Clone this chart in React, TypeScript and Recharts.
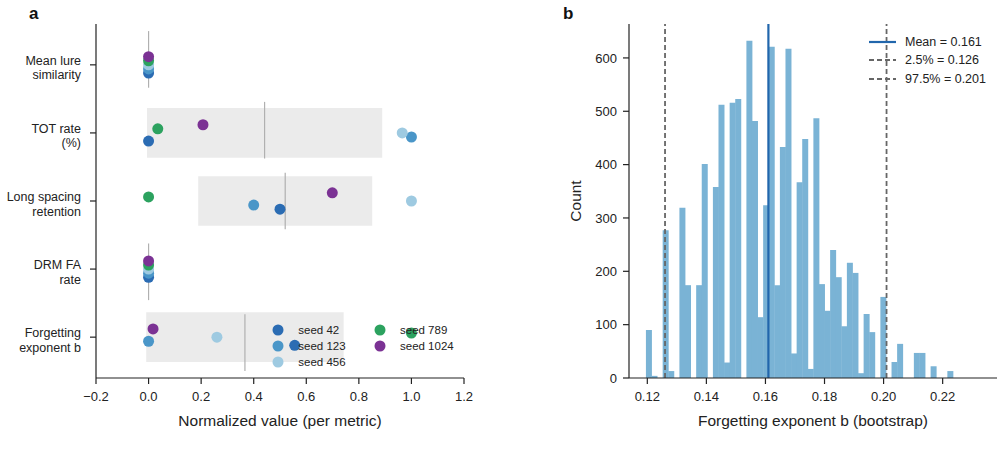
import React from 'react';
import {
  ComposedChart,
  ScatterChart,
  Scatter,
  Bar,
  XAxis,
  YAxis,
  ReferenceArea,
  ReferenceLine,
  Legend,
  Label,
} from 'recharts';

const FONT = '"Liberation Sans", Arial, Helvetica, sans-serif';
const INK = '#222';

// ---- panel a: normalized metric per seed ----
const metricLabels = [
  ['Mean lure', 'similarity'],
  ['TOT rate', '(%)'],
  ['Long spacing', 'retention'],
  ['DRM FA', 'rate'],
  ['Forgetting', 'exponent b'],
];
const seedNames = ['seed 42', 'seed 123', 'seed 456', 'seed 789', 'seed 1024'];
const seedColors = ['#2b6cb3', '#4a96c8', '#9ecae1', '#2ca25f', '#7b3294'];
// vertical jitter (in category units) so seeds don't sit on top of each other
const seedJitter = [0.12, 0.06, 0, -0.06, -0.12];

const seed42 = [0, 0, 0.5, 0, 0.556];
const seed123 = [0, 1.0, 0.4, 0, 0.0];
const seed456 = [0, 0.965, 1.0, 0, 0.26];
const seed789 = [0, 0.035, 0.0, 0, 1.0];
const seed1024 = [0, 0.207, 0.699, 0, 0.017];
const seedValues = [seed42, seed123, seed456, seed789, seed1024];

const xTicksA = [-0.2, 0, 0.2, 0.4, 0.6, 0.8, 1.0, 1.2];
const Y_DOMAIN_A: [number, number] = [-0.6, 4.6];

// ---- panel b: bootstrap histogram ----
const BIN_START = 0.11953;
const BIN_WIDTH = 0.00189;
const binCounts = [
  90, 4, 0, 277, 13, 0, 319, 174, 0, 174,
  401, 0, 358, 512, 29, 516, 523, 0, 632, 482,
  114, 324, 621, 174, 433, 617, 46, 367, 448, 17,
  487, 176, 126, 240, 189, 97, 216, 197, 9, 120,
  86, 0, 152, 0, 30, 64, 0, 0, 47, 47,
  0, 22, 0, 0, 13,
];
const bootMean = 0.161;
const bootLo = 0.126;
const bootHi = 0.201;
const xTicksB = [0.12, 0.14, 0.16, 0.18, 0.2, 0.22];
const yTicksB = [0, 100, 200, 300, 400, 500, 600];

const histData = binCounts.map((count, i) => ({ x: BIN_START + (i + 0.5) * BIN_WIDTH, count }));

const summary = metricLabels.map((_, m) => {
  const vals = seedValues.map((s) => s[m]);
  const mean = vals.reduce((a, b) => a + b, 0) / vals.length;
  const sd = Math.sqrt(vals.reduce((a, b) => a + (b - mean) ** 2, 0) / vals.length);
  return { mean, sd };
});

// mean ticks span 10%..90% of each fifth of the axis height (as in the original figure)
const spanY = (m: number, f: number) =>
  Y_DOMAIN_A[0] + ((m + f) / metricLabels.length) * (Y_DOMAIN_A[1] - Y_DOMAIN_A[0]);

const fmtA = (v: number) => (v < 0 ? '\u2212' + Math.abs(v).toFixed(1) : v.toFixed(1));

function MetricTick({ x, y, payload }: any) {
  const lines = metricLabels[payload.value] || ['', ''];
  return (
    <text x={x} y={y} textAnchor="end" fontSize={12.5} fill={INK} fontFamily={FONT}>
      <tspan x={x} dy={0}>{lines[0]}</tspan>
      <tspan x={x} dy={14.5}>{lines[1]}</tspan>
    </text>
  );
}

function SeedLegend() {
  return (
    <div style={{ position: 'relative', width: 220, height: 50, fontFamily: FONT, fontSize: 11.5, color: INK }}>
      {seedNames.map((s, i) => {
        const col = i < 3 ? 0 : 1;
        const row = i < 3 ? i : i - 3;
        return (
          <div
            key={s}
            style={{ position: 'absolute', left: col * 101.7, top: row * 16, height: 16, display: 'flex', alignItems: 'center', whiteSpace: 'nowrap' }}
          >
            <svg width={12} height={12}>
              <circle cx={6} cy={6} r={5.5} fill={seedColors[i]} />
            </svg>
            <span style={{ marginLeft: 14 }}>{s}</span>
          </div>
        );
      })}
    </div>
  );
}

function BootLegend() {
  const items = [
    { label: `Mean = ${bootMean.toFixed(3)}`, color: '#2166ac', dash: undefined, w: 2.2 },
    { label: `2.5% = ${bootLo.toFixed(3)}`, color: '#666', dash: '5 3', w: 1.8 },
    { label: `97.5% = ${bootHi.toFixed(3)}`, color: '#666', dash: '5 3', w: 1.8 },
  ];
  return (
    <div style={{ position: 'relative', width: 150, height: 60, fontFamily: FONT, fontSize: 12.5, color: INK }}>
      {items.map((it, i) => (
        <div key={it.label} style={{ position: 'absolute', left: 0, top: i * 18.7, height: 19, display: 'flex', alignItems: 'center', whiteSpace: 'nowrap' }}>
          <svg width={27} height={6}>
            <line x1={0} x2={27} y1={3} y2={3} stroke={it.color} strokeWidth={it.w} strokeDasharray={it.dash} />
          </svg>
          <span style={{ marginLeft: 9 }}>{it.label}</span>
        </div>
      ))}
    </div>
  );
}

const tickStyle = { fill: INK, fontSize: 13, fontFamily: FONT };
const axisStyle = { stroke: INK, strokeWidth: 1.2 };

export default function App() {
  return (
    <div style={{ position: 'fixed', left: 0, top: 0, width: 1004, height: 457, background: '#fff', fontFamily: FONT }}>
      <div style={{ position: 'absolute', left: 29, top: 4, fontWeight: 'bold', fontSize: 17, color: '#111' }}>a</div>
      <div style={{ position: 'absolute', left: 563, top: 4, fontWeight: 'bold', fontSize: 17, color: '#111' }}>b</div>

      <div style={{ position: 'absolute', left: 0, top: 0 }}>
        <ScatterChart width={480} height={457} margin={{ top: 24, right: 16, bottom: 29, left: 6 }}>
          <XAxis
            type="number"
            dataKey="x"
            domain={[-0.2, 1.2]}
            ticks={xTicksA}
            tickFormatter={fmtA}
            height={50}
            tickSize={6}
            tickMargin={8}
            tick={tickStyle}
            axisLine={axisStyle}
            tickLine={axisStyle}
            allowDataOverflow
          >
            <Label value="Normalized value (per metric)" position="insideBottom" offset={2} style={{ fill: INK, fontSize: 15.5, fontFamily: FONT }} />
          </XAxis>
          <YAxis
            type="number"
            dataKey="y"
            domain={Y_DOMAIN_A}
            ticks={[0, 1, 2, 3, 4]}
            reversed
            width={90}
            tickSize={6}
            tickMargin={9}
            tick={<MetricTick />}
            axisLine={axisStyle}
            tickLine={axisStyle}
            allowDataOverflow
          />
          {summary.map((s, m) =>
            s.sd > 0 ? (
              <ReferenceArea
                key={`box-${m}`}
                x1={s.mean - s.sd}
                x2={s.mean + s.sd}
                y1={m - 0.365}
                y2={m + 0.365}
                fill="#ebebeb"
                fillOpacity={1}
                stroke="none"
              />
            ) : null
          )}
          {summary.map((s, m) => (
            <ReferenceLine
              key={`mean-${m}`}
              segment={[{ x: s.mean, y: spanY(m, 0.1) }, { x: s.mean, y: spanY(m, 0.9) }]}
              stroke="#b0b0b0"
              strokeWidth={1.2}
            />
          ))}
          {seedValues.map((vals, i) => (
            <Scatter
              key={seedNames[i]}
              name={seedNames[i]}
              data={vals.map((v, m) => ({ x: v, y: m + seedJitter[i] }))}
              fill={seedColors[i]}
              isAnimationActive={false}
              shape={(p: any) => <circle cx={p.cx} cy={p.cy} r={5.5} fill={seedColors[i]} />}
            />
          ))}
          <Legend
            layout="horizontal"
            verticalAlign="middle"
            align="center"
            content={<SeedLegend />}
            wrapperStyle={{ left: 272.3, top: 322.3, width: 220, height: 50 }}
          />
        </ScatterChart>
      </div>

      <div style={{ position: 'absolute', left: 520, top: 0 }}>
        <ComposedChart
          width={484}
          height={457}
          data={histData}
          margin={{ top: 24, right: 7, bottom: 29, left: 49 }}
          barCategoryGap={0}
          barGap={0}
        >
          <XAxis
            type="number"
            dataKey="x"
            domain={[0.1138, 0.2384]}
            ticks={xTicksB}
            tickFormatter={(v: number) => v.toFixed(2)}
            height={50}
            tickSize={6}
            tickMargin={8}
            tick={tickStyle}
            axisLine={axisStyle}
            tickLine={axisStyle}
            allowDataOverflow
          >
            <Label value="Forgetting exponent b (bootstrap)" position="insideBottom" offset={2} style={{ fill: INK, fontSize: 15.5, fontFamily: FONT }} />
          </XAxis>
          <YAxis
            type="number"
            domain={[0, 663.6]}
            ticks={yTicksB}
            width={60}
            tickSize={6}
            tickMargin={6}
            tick={tickStyle}
            axisLine={axisStyle}
            tickLine={axisStyle}
            allowDataOverflow
          >
            <Label value="Count" angle={-90} position="insideLeft" offset={6} style={{ fill: INK, fontSize: 15.5, fontFamily: FONT, textAnchor: 'middle' }} />
          </YAxis>
          <Bar dataKey="count" fill="#7ab3d5" isAnimationActive={false} />
          <ReferenceLine x={bootLo} stroke="#666" strokeWidth={1.8} strokeDasharray="5 3" />
          <ReferenceLine x={bootHi} stroke="#666" strokeWidth={1.8} strokeDasharray="5 3" />
          <ReferenceLine x={bootMean} stroke="#2166ac" strokeWidth={2.2} />
          <Legend
            layout="horizontal"
            verticalAlign="middle"
            align="center"
            content={<BootLegend />}
            wrapperStyle={{ left: 349, top: 32.2, width: 150, height: 60 }}
          />
        </ComposedChart>
      </div>
    </div>
  );
}
